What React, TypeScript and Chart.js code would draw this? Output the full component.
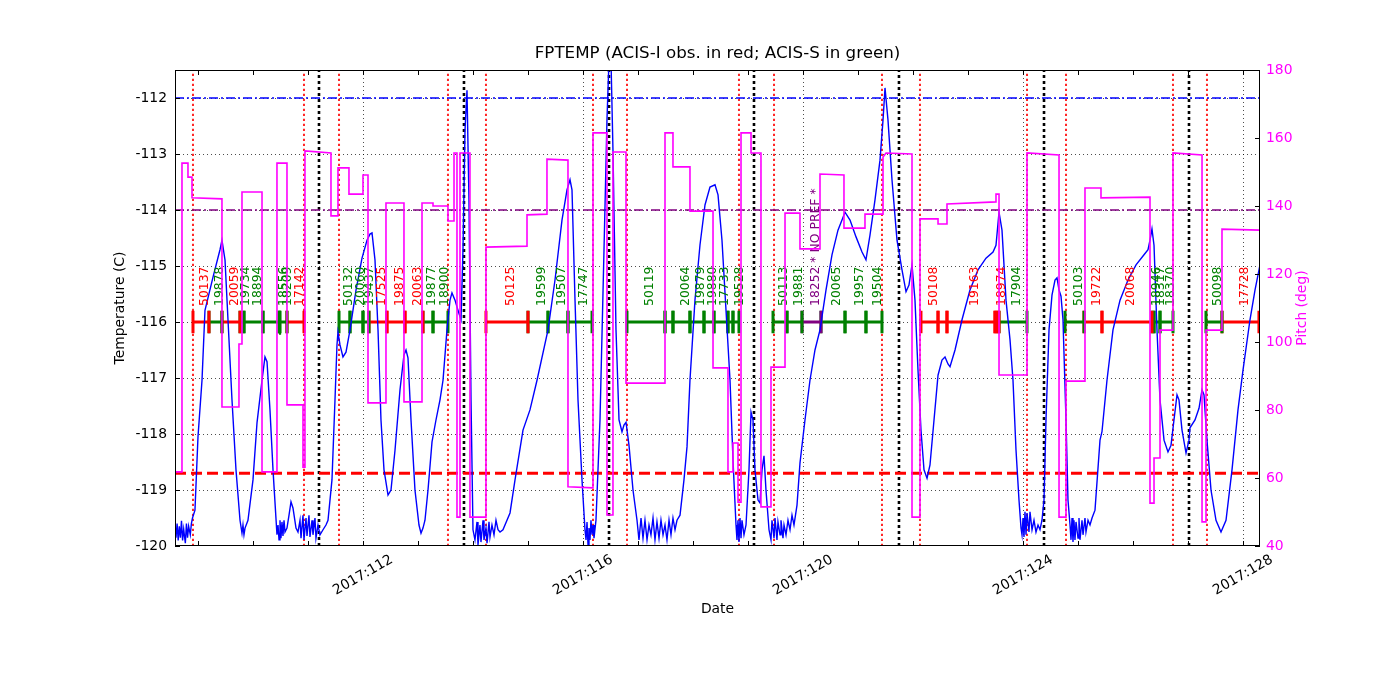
import { useEffect, useRef } from "react";
import { Chart, registerables } from "chart.js";

Chart.register(...registerables);

const FONT = '"DejaVu Sans", "Bitstream Vera Sans", sans-serif';

// ---- axis ranges & ticks ----
const X_MIN = 108.582;
const X_MAX = 128.309;
const T_MIN = -120;
const T_MAX = -111.5;
const P_MIN = 40;
const P_MAX = 180;
const tempTicks = [-120, -119, -118, -117, -116, -115, -114, -113, -112];
const pitchTicks = [40, 60, 80, 100, 120, 140, 160, 180];
const dayTicks = [109, 110, 111, 112, 113, 114, 115, 116, 117, 118, 119, 120, 121, 122, 123, 124, 125, 126, 127, 128];
const dateTickDays = [112, 116, 120, 124, 128];
const dateTickLabels = ["2017:112", "2017:116", "2017:120", "2017:124", "2017:128"];

// ---- limit lines ----
const planningLimit = -112.0;
const purpleLimit = -114.0;
const redLimit = -118.7;

// ---- vertical event lines (day of year) ----
const redLineDays = [108.909, 110.927, 111.564, 113.545, 114.236, 116.182, 116.8, 118.836, 119.473, 121.436, 122.127, 124.073, 124.782, 126.727, 127.345];
const blackLineDays = [111.2, 113.836, 116.473, 119.109, 121.745, 124.382, 127.018];

// ---- observations ----
const obsStart = [108.909, 109.2, 109.436, 109.764, 109.836, 110.182, 110.473, 110.491, 110.618,
  111.564, 111.764, 112.0, 112.109, 112.436, 112.764, 113.091, 113.273,
  114.236, 115.0, 115.364, 115.727,
  116.8, 117.491, 117.636, 117.945, 118.2, 118.382, 118.636, 118.727,
  119.455, 119.709, 119.982, 120.327, 120.764, 121.145,
  122.145, 122.455, 122.618, 123.491, 123.527, 123.564,
  124.764, 125.109, 125.436, 126.345, 126.382, 126.491,
  127.327, 127.618];
const obsStop = [109.2, 109.436, 109.764, 109.836, 110.182, 110.473, 110.491, 110.618, 110.927,
  111.764, 112.0, 112.109, 112.436, 112.764, 113.091, 113.273, 113.545,
  115.0, 115.364, 115.727, 116.164,
  117.491, 117.636, 117.945, 118.2, 118.382, 118.636, 118.727, 118.836,
  119.709, 119.982, 120.327, 120.764, 121.145, 121.436,
  122.455, 122.618, 123.491, 123.527, 123.564, 124.073,
  125.109, 125.436, 126.345, 126.382, 126.491, 126.727,
  127.618, 128.29];
const obsIds = ["50137", "19878", "20059", "19734", "18894", "", "18556", "18209", "17142",
  "50132", "20060", "19437", "17525", "19875", "20063", "19877", "18900",
  "50125", "19599", "19507", "17747",
  "50119", "", "20064", "19879", "19880", "17733", "", "19528",
  "50113", "19881", "18252 * NO PREF *", "20065", "19957", "19504",
  "50108", "", "19163", "", "18974", "17904",
  "50103", "19722", "20068", "18946", "18317", "18370",
  "50098", "17728"];
const obsInstr = ["I", "S", "I", "S", "S", "S", "S", "S", "I",
  "S", "S", "S", "I", "I", "I", "S", "S",
  "I", "S", "S", "S",
  "S", "S", "S", "S", "S", "S", "S", "S",
  "S", "S", "N", "S", "S", "S",
  "I", "I", "I", "I", "I", "S",
  "S", "I", "I", "S", "S", "S",
  "S", "I"];
const OBS_T = -116;
const instrColor: Record<string, string> = { I: "#ff0000", S: "#008000", N: "#800080" };

// ---- FPTEMP (C) ----
const tempDays = [
  108.582, 108.6, 108.62, 108.64, 108.66, 108.68, 108.7, 108.72, 108.74, 108.77, 108.79, 108.81, 108.83, 108.86, 108.88, 108.9,
  108.945, 109.0, 109.073, 109.127, 109.273, 109.4, 109.436, 109.491, 109.618, 109.691, 109.764, 109.8, 109.818, 109.836, 109.855,
  109.909, 110.0, 110.073, 110.164, 110.218, 110.255, 110.309, 110.364, 110.436,
  110.455, 110.473, 110.491, 110.509, 110.527, 110.545, 110.564, 110.582, 110.618,
  110.655, 110.691, 110.727, 110.782, 110.818,
  110.855, 110.873, 110.909, 110.927, 110.964, 110.982, 111.018, 111.036, 111.073, 111.091, 111.127, 111.145, 111.182, 111.218, 111.273, 111.327,
  111.364, 111.436, 111.491, 111.527, 111.545, 111.582, 111.636, 111.691, 111.764, 111.873, 111.982, 112.073, 112.127, 112.164,
  112.218, 112.273, 112.327, 112.382, 112.455, 112.509, 112.582, 112.673, 112.745, 112.782, 112.818, 112.873, 112.945, 113.018, 113.055,
  113.091, 113.127, 113.182, 113.255, 113.327, 113.4, 113.455, 113.527, 113.582, 113.618, 113.673, 113.727, 113.782, 113.818, 113.855,
  113.891, 113.927, 113.964, 114.0,
  114.036, 114.073, 114.091, 114.127, 114.145, 114.182, 114.2, 114.236, 114.255, 114.291, 114.309, 114.345, 114.382, 114.418, 114.455, 114.491, 114.545,
  114.673, 114.764, 114.909, 115.036, 115.164, 115.364, 115.491, 115.618, 115.709, 115.764, 115.8, 115.855, 115.909, 115.982, 116.036,
  116.055, 116.073, 116.091, 116.109, 116.127, 116.145, 116.164, 116.182, 116.2, 116.236,
  116.309, 116.382, 116.436, 116.473, 116.509, 116.545, 116.6, 116.655, 116.709, 116.745, 116.782, 116.836, 116.909, 116.982,
  117.018, 117.055, 117.091, 117.127, 117.164, 117.2, 117.236, 117.273, 117.309, 117.345, 117.382, 117.418, 117.455, 117.491, 117.527, 117.564, 117.6, 117.636, 117.673, 117.709,
  117.764, 117.836, 117.891, 117.945, 118.036, 118.127, 118.218, 118.309, 118.4, 118.455, 118.527, 118.6, 118.673, 118.727, 118.782,
  118.8, 118.818, 118.836, 118.855, 118.873, 118.891, 118.927, 118.964,
  119.018, 119.055, 119.091, 119.127, 119.182, 119.218, 119.255, 119.291, 119.327, 119.382,
  119.418, 119.436, 119.473, 119.491, 119.527, 119.545, 119.582, 119.6, 119.636, 119.655, 119.691, 119.727, 119.764, 119.8, 119.836,
  119.891, 119.945, 120.036, 120.127, 120.218, 120.309, 120.418, 120.527, 120.636, 120.764, 120.855, 120.964, 121.073, 121.145,
  121.218, 121.309, 121.4, 121.455, 121.491, 121.545, 121.618, 121.709, 121.8, 121.873, 121.927, 121.982, 122.036, 122.091, 122.145,
  122.2, 122.255, 122.309, 122.382, 122.455, 122.527, 122.582, 122.636, 122.673, 122.764, 122.891, 123.036, 123.182, 123.327, 123.455,
  123.509, 123.564, 123.618, 123.691, 123.764, 123.818, 123.873, 123.927, 123.964,
  123.982, 124.0, 124.018, 124.036, 124.055, 124.073, 124.109, 124.127, 124.164, 124.2, 124.236, 124.273, 124.309, 124.345, 124.382,
  124.418, 124.473, 124.527, 124.582, 124.618, 124.655, 124.691, 124.727, 124.782, 124.818, 124.855,
  124.873, 124.891, 124.909, 124.927, 124.945, 124.964, 125.0, 125.018, 125.036, 125.073, 125.091, 125.127, 125.145, 125.182, 125.218, 125.255,
  125.309, 125.4, 125.436, 125.527, 125.636, 125.764, 125.909, 126.055, 126.2, 126.273, 126.309, 126.345, 126.382, 126.436, 126.491,
  126.564, 126.636, 126.691, 126.745, 126.8, 126.836, 126.891, 126.964, 127.018, 127.036, 127.127, 127.2, 127.255, 127.291, 127.345,
  127.418, 127.509, 127.6, 127.691, 127.8, 127.909, 128.0, 128.127, 128.218, 128.309,
];
const tempVals = [
  -119.7, -119.85, -119.6, -119.9, -119.65, -119.85, -119.55, -119.9, -119.7, -119.95, -119.6, -119.85, -119.65, -119.8, -119.6, -119.5,
  -119.36, -118.05, -117.04, -115.79, -115.2, -114.71, -114.54, -114.89, -117.39, -118.64, -119.54, -119.77, -119.625, -119.8, -119.68,
  -119.54, -118.82, -117.8, -117.04, -116.625, -116.71, -117.57, -118.64, -119.8,
  -119.625, -119.89, -119.54, -119.86, -119.57, -119.82, -119.54, -119.75, -119.68,
  -119.45, -119.21, -119.32, -119.68, -119.75,
  -119.54, -119.86, -119.45, -119.89, -119.5, -119.82, -119.45, -119.84, -119.54, -119.8, -119.5, -119.86, -119.625, -119.8, -119.71, -119.625,
  -119.54, -118.82, -117.39, -116.41, -116.18, -116.41, -116.625, -116.54, -116.14, -115.43, -114.86, -114.54, -114.43, -114.41,
  -114.89, -116.14, -117.75, -118.64, -119.09, -119.0, -118.29, -117.21, -116.59, -116.5, -116.64, -117.75, -119.0, -119.625, -119.77,
  -119.68, -119.54, -119.0, -118.14, -117.75, -117.39, -117.04, -116.14, -115.61, -115.48, -115.61, -115.79, -115.96, -114.71, -112.57,
  -111.86, -113.82, -117.39, -119.71,
  -119.89, -119.57, -119.98, -119.625, -119.93, -119.54, -119.89, -119.68, -119.95, -119.57, -119.84, -119.625, -119.8, -119.54, -119.71, -119.75, -119.71,
  -119.41, -118.82, -117.93, -117.57, -117.04, -116.14, -115.25, -114.18, -113.64, -113.46, -113.64, -115.61, -117.39, -118.82, -119.71,
  -119.89, -119.57, -119.98, -119.68, -119.89, -119.54, -119.8, -119.625, -119.86, -119.54,
  -117.75, -114.71, -112.39, -111.32, -111.32, -112.93, -116.14, -117.75, -117.96, -117.84, -117.79, -118.2, -119.0, -119.54,
  -119.89, -119.5, -119.86, -119.54, -119.89, -119.625, -119.8, -119.5, -119.89, -119.57, -119.86, -119.54, -119.8, -119.625, -119.89, -119.54, -119.8, -119.5, -119.71, -119.54,
  -119.45, -118.82, -118.23, -117.04, -115.61, -114.625, -113.91, -113.59, -113.55, -113.73, -114.54, -115.79, -117.04, -118.46, -119.625,
  -119.89, -119.54, -119.93, -119.5, -119.86, -119.54, -119.8, -119.625,
  -118.64, -117.61, -117.75, -118.64, -119.18, -119.23, -118.64, -118.39, -119.0, -119.71,
  -119.89, -119.54, -119.86, -119.5, -119.89, -119.57, -119.8, -119.54, -119.86, -119.625, -119.8, -119.54, -119.71, -119.45, -119.625,
  -119.27, -118.52, -117.75, -117.04, -116.5, -116.14, -115.43, -114.8, -114.36, -114.04, -114.18, -114.48, -114.75, -114.89,
  -114.45, -113.82, -113.11, -112.39, -111.82, -112.39, -113.46, -114.54, -115.07, -115.46, -115.34, -114.98, -115.61, -116.86, -117.93,
  -118.64, -118.79, -118.55, -117.75, -116.95, -116.68, -116.625, -116.75, -116.8, -116.5, -115.96, -115.43, -115.07, -114.86, -114.75,
  -114.63, -114.04, -114.36, -115.61, -116.32, -117.04, -118.29, -119.18, -119.68,
  -119.8, -119.5, -119.84, -119.39, -119.8, -119.41, -119.75, -119.39, -119.71, -119.54, -119.75, -119.625, -119.71, -119.54, -119.18,
  -117.75, -116.14, -115.52, -115.25, -115.21, -115.43, -115.54, -115.96, -117.75, -119.18, -119.625,
  -119.89, -119.5, -119.93, -119.54, -119.89, -119.57, -119.86, -119.5, -119.89, -119.54, -119.8, -119.5, -119.75, -119.54, -119.625, -119.5,
  -119.36, -118.11, -117.96, -117.04, -116.14, -115.61, -115.25, -114.98, -114.8, -114.71, -114.54, -114.34, -114.63, -116.14, -117.39,
  -118.11, -118.32, -118.2, -117.75, -117.3, -117.39, -117.93, -118.34, -118.11, -117.89, -117.75, -117.54, -117.21, -117.3, -118.11,
  -119.0, -119.54, -119.75, -119.54, -118.64, -117.57, -116.86, -115.96, -115.43, -114.98,
];

// ---- Pitch (deg) ----
const pitchDays = [
  108.582, 108.709, 108.709, 108.818, 108.818, 108.891, 108.891, 109.436, 109.436, 109.745, 109.745, 109.8, 109.8, 110.164, 110.164,
  110.436, 110.436, 110.618, 110.618, 110.909, 110.909, 110.945, 110.945, 111.418, 111.418, 111.545, 111.545, 111.745, 111.745, 112.0,
  112.0, 112.091, 112.091, 112.418, 112.418, 112.745, 112.745, 113.073, 113.073, 113.273, 113.273, 113.545, 113.545, 113.655, 113.655,
  113.709, 113.709, 113.764, 113.764, 113.945, 113.945, 114.236, 114.236, 114.982, 114.982, 115.345, 115.345, 115.727, 115.727, 116.182,
  116.182, 116.436, 116.436, 116.545, 116.545, 116.782, 116.782, 117.491, 117.491, 117.636, 117.636, 117.945, 117.945, 118.364, 118.364,
  118.636, 118.636, 118.727, 118.727, 118.818, 118.818, 118.873, 118.873, 119.055, 119.055, 119.236, 119.236, 119.418, 119.418, 119.673,
  119.673, 119.945, 119.945, 120.309, 120.309, 120.745, 120.745, 121.127, 121.127, 121.455, 121.455, 121.509, 121.982, 121.982, 122.127,
  122.127, 122.455, 122.455, 122.618, 122.618, 123.509, 123.509, 123.564, 123.564, 124.073, 124.073, 124.655, 124.655, 124.782, 124.782,
  125.127, 125.127, 125.418, 125.418, 126.309, 126.309, 126.382, 126.382, 126.491, 126.491, 126.727, 126.727, 127.255, 127.255, 127.327,
  127.327, 127.618, 127.618, 128.309,
];
const pitchVals = [
  61.8, 61.8, 152.6, 152.6, 148.5, 148.5, 142.4, 142.1, 80.9, 80.9, 99.4, 99.4, 144.1, 144.1, 61.8,
  61.8, 152.6, 152.6, 81.5, 81.5, 63.2, 63.2, 156.2, 155.6, 137.1, 137.1, 151.2, 151.2, 143.5, 143.5,
  149.1, 149.1, 82.1, 82.1, 140.9, 140.9, 82.4, 82.4, 140.9, 140.9, 140.0, 140.0, 135.6, 135.6, 155.6,
  155.6, 48.5, 48.5, 155.6, 155.6, 48.5, 48.5, 127.9, 128.2, 137.4, 137.6, 153.8, 153.5, 57.4, 57.1,
  161.5, 161.5, 49.1, 49.1, 155.9, 155.9, 87.9, 87.9, 161.5, 161.5, 151.5, 151.5, 138.5, 138.5, 92.4,
  92.4, 61.8, 61.8, 70.3, 70.3, 52.9, 52.9, 161.5, 161.5, 155.6, 155.6, 51.5, 51.5, 92.6, 92.6,
  137.9, 137.9, 127.4, 127.4, 149.4, 149.1, 133.5, 133.5, 137.6, 137.6, 154.4, 155.6, 155.3, 48.5, 48.5,
  136.2, 136.2, 134.7, 134.7, 140.6, 141.2, 143.5, 143.5, 90.3, 90.3, 155.6, 155.0, 48.5, 48.5, 88.5,
  88.5, 145.3, 145.3, 142.4, 142.6, 52.6, 52.6, 65.9, 65.9, 103.5, 103.5, 155.6, 155.0, 47.1, 47.1,
  103.5, 103.5, 133.2, 132.9,
];

function buildDatasets(): any[] {
  const base = { showLine: true, pointRadius: 0, pointHoverRadius: 0, fill: false, tension: 0 };
  const ds: any[] = [];
  ds.push({
    ...base, label: "Pitch", yAxisID: "y2", order: 0,
    data: pitchDays.map((d, i) => ({ x: d, y: pitchVals[i] })),
    borderColor: "#ff00ff", borderWidth: 1.6,
  });
  ds.push({
    ...base, label: "FPTEMP", yAxisID: "y", order: 1,
    data: tempDays.map((d, i) => ({ x: d, y: tempVals[i] })),
    borderColor: "#0000ff", borderWidth: 1.4,
  });
  obsStart.forEach((s, i) => {
    const e = obsStop[i];
    ds.push({
      ...base, label: "obs " + obsIds[i], yAxisID: "y", order: 2,
      data: [
        { x: s, y: OBS_T - 0.2 }, { x: s, y: OBS_T + 0.2 }, { x: s, y: OBS_T },
        { x: e, y: OBS_T }, { x: e, y: OBS_T + 0.2 }, { x: e, y: OBS_T - 0.2 },
      ],
      borderColor: instrColor[obsInstr[i]], borderWidth: 3, borderCapStyle: "butt", borderJoinStyle: "miter",
    });
  });
  const hl = [
    { v: planningLimit, c: "#0000ff", w: 1.4, dash: [9, 3, 2, 3] },
    { v: purpleLimit, c: "#800080", w: 1.4, dash: [9, 3, 2, 3] },
    { v: redLimit, c: "#ff0000", w: 3, dash: [11, 5] },
  ];
  hl.forEach((h) => {
    ds.push({
      ...base, label: "limit", yAxisID: "y", order: 3,
      data: [{ x: X_MIN, y: h.v }, { x: X_MAX, y: h.v }],
      borderColor: h.c, borderWidth: h.w, borderDash: h.dash,
    });
  });
  redLineDays.forEach((d) => {
    ds.push({
      ...base, label: "red", yAxisID: "y", order: 4,
      data: [{ x: d, y: T_MIN }, { x: d, y: T_MAX }],
      borderColor: "rgba(255,0,0,0.85)", borderWidth: 2, borderDash: [2.3, 2.7],
    });
  });
  blackLineDays.forEach((d) => {
    ds.push({
      ...base, label: "black", yAxisID: "y", order: 4,
      data: [{ x: d, y: T_MIN }, { x: d, y: T_MAX }],
      borderColor: "#000000", borderWidth: 2.6, borderDash: [3, 3],
    });
  });
  return ds;
}

function drawObsLabels(chart: any) {
  const { ctx } = chart;
  const x = chart.scales.x;
  const y = chart.scales.y;
  ctx.save();
  ctx.font = `12.4px ${FONT}`;
  ctx.textAlign = "left";
  ctx.textBaseline = "middle";
  const by = y.getPixelForValue(OBS_T) - 16;
  obsIds.forEach((id, i) => {
    if (!id) return;
    const mid = x.getPixelForValue((obsStart[i] + obsStop[i]) / 2) + 4;
    ctx.save();
    ctx.translate(mid, by);
    ctx.rotate(-Math.PI / 2);
    ctx.fillStyle = instrColor[obsInstr[i]];
    ctx.fillText(id, 0, 0);
    ctx.restore();
  });
  ctx.restore();
}

const overlayPlugin = {
  id: "overlay",
  beforeDatasetsDraw(chart: any) {
    const { ctx, chartArea: a } = chart;
    const x = chart.scales.x;
    const y = chart.scales.y;
    ctx.save();
    ctx.beginPath();
    ctx.rect(a.left, a.top, a.right - a.left, a.bottom - a.top);
    ctx.clip();
    ctx.strokeStyle = "#000";
    ctx.lineWidth = 0.7;
    ctx.setLineDash([1, 3]);
    tempTicks.forEach((v) => {
      const py = Math.round(y.getPixelForValue(v)) + 0.5;
      ctx.beginPath(); ctx.moveTo(a.left, py); ctx.lineTo(a.right, py); ctx.stroke();
    });
    dateTickDays.forEach((d) => {
      const px = Math.round(x.getPixelForValue(d)) + 0.5;
      ctx.beginPath(); ctx.moveTo(px, a.top); ctx.lineTo(px, a.bottom); ctx.stroke();
    });
    ctx.restore();
  },
  beforeDatasetDraw(chart: any, args: any) {
    if (args.index === 0) drawObsLabels(chart);
  },
  afterDraw(chart: any) {
    const { ctx, chartArea: a } = chart;
    const x = chart.scales.x;
    const y = chart.scales.y;
    const y2 = chart.scales.y2;
    ctx.save();
    // spines
    ctx.strokeStyle = "#000";
    ctx.lineWidth = 1;
    ctx.setLineDash([]);
    ctx.strokeRect(a.left + 0.5, a.top + 0.5, a.right - a.left - 1, a.bottom - a.top - 1);
    // inward tick marks
    const tl = 5;
    ctx.beginPath();
    dayTicks.forEach((d) => {
      const px = Math.round(x.getPixelForValue(d)) + 0.5;
      ctx.moveTo(px, a.bottom); ctx.lineTo(px, a.bottom - tl);
      ctx.moveTo(px, a.top); ctx.lineTo(px, a.top + tl);
    });
    tempTicks.forEach((v) => {
      const py = Math.round(y.getPixelForValue(v)) + 0.5;
      ctx.moveTo(a.left, py); ctx.lineTo(a.left + tl, py);
    });
    pitchTicks.forEach((v) => {
      const py = Math.round(y2.getPixelForValue(v)) + 0.5;
      ctx.moveTo(a.right, py); ctx.lineTo(a.right - tl, py);
    });
    ctx.stroke();

    // rotated date labels
    const fs = 13.9;
    ctx.font = `${fs}px ${FONT}`;
    ctx.fillStyle = "#000";
    ctx.textAlign = "center";
    ctx.textBaseline = "middle";
    const ang = (30 * Math.PI) / 180;
    dateTickDays.forEach((d, i) => {
      const px = x.getPixelForValue(d);
      const w = ctx.measureText(dateTickLabels[i]).width;
      const h = fs * 1.1;
      const bh = w * Math.sin(ang) + h * Math.cos(ang);
      ctx.save();
      ctx.translate(px, a.bottom + 6 + bh / 2);
      ctx.rotate(-ang);
      ctx.fillText(dateTickLabels[i], 0, 0);
      ctx.restore();
    });

    // axis titles
    const cx = (a.left + a.right) / 2;
    const cy = (a.top + a.bottom) / 2;
    ctx.textAlign = "center";
    ctx.textBaseline = "middle";
    ctx.fillText("Date", cx, 609);
    ctx.save();
    ctx.translate(120, cy);
    ctx.rotate(-Math.PI / 2);
    ctx.fillText("Temperature (C)", 0, 0);
    ctx.restore();
    ctx.save();
    ctx.translate(1302, cy);
    ctx.rotate(-Math.PI / 2);
    ctx.fillStyle = "#ff00ff";
    ctx.fillText("Pitch (deg)", 0, 0);
    ctx.restore();

    // title
    ctx.font = `16.7px ${FONT}`;
    ctx.textBaseline = "alphabetic";
    ctx.fillText("FPTEMP (ACIS-I obs. in red; ACIS-S in green)", cx, a.top - 12);
    ctx.restore();
  },
};

export default function App() {
  const ref = useRef<HTMLCanvasElement>(null);
  useEffect(() => {
    if (!ref.current) return;
    const chart = new Chart(ref.current, {
      type: "scatter",
      data: { datasets: buildDatasets() },
      options: {
        responsive: false,
        animation: false,
        devicePixelRatio: 1,
        events: [],
        layout: { padding: { top: 70, left: 0, right: 0, bottom: 0 } },
        plugins: { legend: { display: false }, tooltip: { enabled: false }, title: { display: false } },
        scales: {
          x: {
            type: "linear", min: X_MIN, max: X_MAX,
            ticks: { display: false },
            grid: { display: false, drawTicks: false },
            border: { display: false },
            afterFit: (s: any) => { s.height = 154; },
          },
          y: {
            type: "linear", position: "left", min: T_MIN, max: T_MAX,
            afterBuildTicks: (s: any) => { s.ticks = tempTicks.map((v) => ({ value: v })); },
            ticks: { color: "#000", font: { family: FONT, size: 13.9 }, padding: 8, autoSkip: false, callback: (v: any) => String(v) },
            grid: { display: false, drawTicks: false },
            border: { display: false },
            afterFit: (s: any) => { s.width = 175; },
          },
          y2: {
            type: "linear", position: "right", min: P_MIN, max: P_MAX,
            afterBuildTicks: (s: any) => { s.ticks = pitchTicks.map((v) => ({ value: v })); },
            ticks: { color: "#ff00ff", font: { family: FONT, size: 13.9 }, padding: 6, autoSkip: false, callback: (v: any) => String(v) },
            grid: { display: false, drawTicks: false },
            border: { display: false },
            afterFit: (s: any) => { s.width = 140; },
          },
        },
      },
      plugins: [overlayPlugin],
    } as any);
    return () => chart.destroy();
  }, []);
  return (
    <div style={{ position: "fixed", left: 0, top: 0, width: 1400, height: 700, background: "#fff" }}>
      <canvas ref={ref} width={1400} height={700} style={{ display: "block" }} />
    </div>
  );
}
